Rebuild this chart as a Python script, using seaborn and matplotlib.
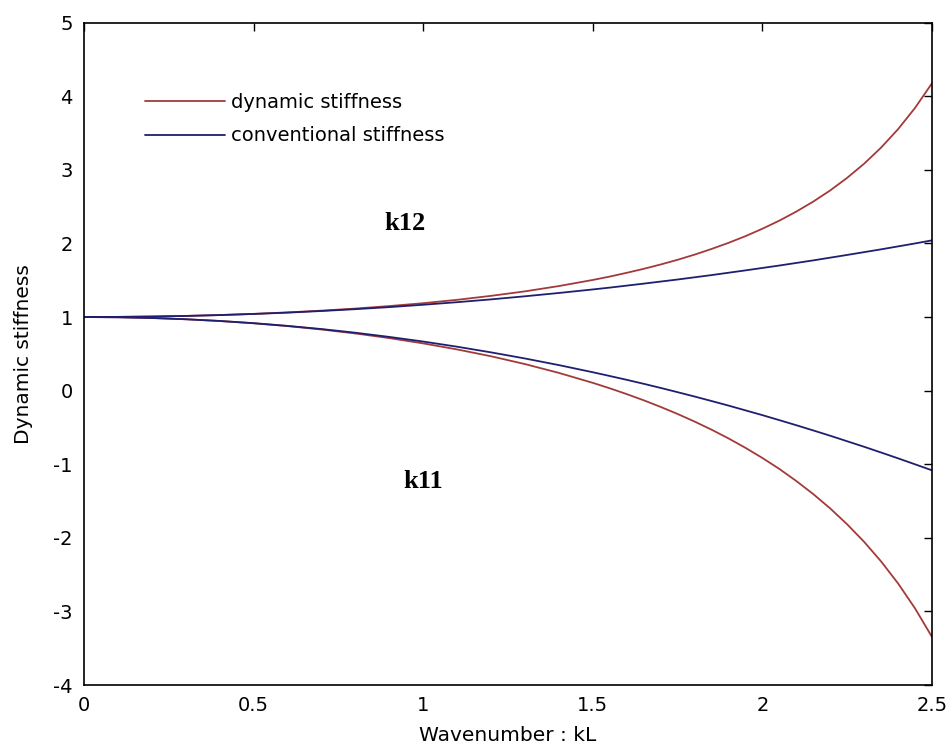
import pandas as pd
import seaborn as sns
import matplotlib.pyplot as plt

# wavenumber kL (finer steps where the curves bend)
kL = [0.0, 0.1, 0.2, 0.3, 0.4, 0.5, 0.6, 0.7, 0.8, 0.9, 1.0, 1.1, 1.2,
      1.3, 1.4, 1.5, 1.55, 1.6, 1.65, 1.7, 1.75, 1.8, 1.85, 1.9, 1.95,
      2.0, 2.05, 2.1, 2.15, 2.2, 2.25, 2.3, 2.35, 2.4, 2.45, 2.5]

# k12 curves
k12_dynamic = [1.000, 1.002, 1.007, 1.015, 1.027, 1.043, 1.063, 1.087, 1.115,
               1.149, 1.188, 1.234, 1.288, 1.349, 1.421, 1.504, 1.550, 1.601,
               1.655, 1.714, 1.778, 1.848, 1.925, 2.008, 2.099, 2.200, 2.310,
               2.433, 2.569, 2.721, 2.892, 3.084, 3.303, 3.553, 3.842, 4.177]
k12_conventional = [1.000, 1.002, 1.007, 1.015, 1.027, 1.042, 1.060, 1.082,
                    1.107, 1.135, 1.167, 1.202, 1.240, 1.282, 1.327, 1.375,
                    1.400, 1.427, 1.454, 1.482, 1.510, 1.540, 1.570, 1.602,
                    1.634, 1.667, 1.700, 1.735, 1.770, 1.807, 1.844, 1.882,
                    1.920, 1.960, 2.000, 2.042]

# k11 curves
k11_dynamic = [1.000, 0.997, 0.987, 0.970, 0.946, 0.915, 0.877, 0.831, 0.777,
               0.714, 0.642, 0.560, 0.467, 0.361, 0.241, 0.106, 0.032, -0.047,
               -0.131, -0.221, -0.317, -0.420, -0.530, -0.649, -0.777, -0.915,
               -1.064, -1.228, -1.406, -1.601, -1.817, -2.055, -2.321, -2.620,
               -2.959, -3.347]
k11_conventional = [1.000, 0.997, 0.987, 0.970, 0.947, 0.917, 0.880, 0.837,
                    0.787, 0.730, 0.667, 0.597, 0.520, 0.437, 0.347, 0.250,
                    0.199, 0.147, 0.093, 0.037, -0.021, -0.080, -0.141,
                    -0.203, -0.268, -0.333, -0.401, -0.470, -0.541, -0.613,
                    -0.688, -0.763, -0.841, -0.920, -1.001, -1.083]

x_ticks = [0, 0.5, 1, 1.5, 2, 2.5]
x_tick_labels = ["0", "0.5", "1", "1.5", "2", "2.5"]
y_ticks = [-4, -3, -2, -1, 0, 1, 2, 3, 4, 5]

# long table for seaborn
frames = []
for name, kind, vals in [
    ("k12", "dynamic stiffness", k12_dynamic),
    ("k12", "conventional stiffness", k12_conventional),
    ("k11", "dynamic stiffness", k11_dynamic),
    ("k11", "conventional stiffness", k11_conventional),
]:
    frames.append(pd.DataFrame({"kL": kL, "value": vals, "kind": kind,
                                "term": name + kind}))
df = pd.concat(frames, ignore_index=True)

sns.set_style("white")
plt.rcParams["font.family"] = ["DejaVu Sans"]
plt.rcParams["axes.unicode_minus"] = False
plt.rcParams["text.color"] = "black"
plt.rcParams["axes.labelcolor"] = "black"

fig = plt.figure(figsize=(9.52, 7.48), dpi=100)
ax = fig.add_axes([0.0882, 0.0842, 0.8908, 0.8855])

sns.lineplot(
    data=df, x="kL", y="value", hue="kind", units="term", estimator=None,
    palette={"dynamic stiffness": "#a33a3a", "conventional stiffness": "#1f1f70"},
    linewidth=1.3, ax=ax,
)

ax.set_xlim(0, 2.5)
ax.set_ylim(-4, 5)
ax.set_xticks(x_ticks)
ax.set_xticklabels(x_tick_labels)
ax.set_yticks(y_ticks)
ax.tick_params(direction="in", length=5.5, width=1, top=True, right=True,
               labelsize=14, pad=8, colors="black")
for s in ax.spines.values():
    s.set_color("black")
    s.set_linewidth(1.2)

ax.set_xlabel("Wavenumber : kL", fontsize=14.5)
ax.set_ylabel("Dynamic stiffness", fontsize=14.5)
ax.xaxis.set_label_coords(0.5, -0.062)
ax.yaxis.set_label_coords(-0.060, 0.5)

ax.text(0.946, 2.27, "k12", fontsize=19, fontweight="bold",
        family="Liberation Serif", ha="center", va="center")
ax.text(1.0, -1.23, "k11", fontsize=19, fontweight="bold",
        family="Liberation Serif", ha="center", va="center")

leg = ax.legend(loc="upper left", bbox_to_anchor=(0.072, 0.894), frameon=False,
                fontsize=14, handlelength=4.1, handletextpad=0.3,
                labelspacing=0.75, borderpad=0, borderaxespad=0)
for line in leg.get_lines():
    line.set_linewidth(1.3)

fig.savefig("out.png", dpi=100)
